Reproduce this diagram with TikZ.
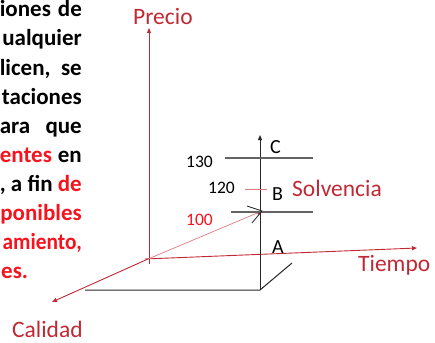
\documentclass[tikz,border=0pt]{standalone}
\usepackage{fontspec}
\setmainfont{Carlito}
\usetikzlibrary{arrows.meta}
\definecolor{axisred}{RGB}{192,40,52}
\definecolor{pinkred}{RGB}{224,120,130}
\definecolor{textred}{RGB}{245,20,30}
\definecolor{linegray}{RGB}{100,100,100}

\begin{document}
\begin{tikzpicture}[x=1pt,y=-1pt,
  axis/.style={draw=axisred,line width=0.9pt,-{Triangle[length=5pt,width=4pt]}},
  guide/.style={draw=linegray,line width=1.3pt},
  frame/.style={draw=black!85,line width=1pt},
  axislabel/.style={text=axisred,font=\fontsize{23.5}{28}\selectfont,inner sep=0pt},
  letter/.style={font=\fontsize{20}{24}\selectfont,inner sep=0pt},
  value/.style={font=\fontsize{17.5}{21}\selectfont,inner sep=0pt},
  para/.style={font=\bfseries\fontsize{23}{29}\selectfont,inner sep=0pt}]
  \useasboundingbox (0,0) rectangle (435,342);
  % cut-off paragraph on the left
  \node[para,anchor=base east] (l1) at (82,17) {\makebox[82pt][s]{iones de}};
  \node[para,anchor=base east] (l2) at (82,46) {ualquier};
  \node[para,anchor=base east] (l3) at (82,75) {\makebox[82pt][s]{licen, se}};
  \node[para,anchor=base east] (l4) at (82,104) {taciones};
  \node[para,anchor=base east] (l5) at (82,133) {\makebox[82pt][s]{ara que}};
  \node[para,anchor=base east] (l6) at (82,162) {\makebox[82pt][s]{\textcolor{textred}{entes} en}};
  \node[para,anchor=base east] (l7) at (82,191) {\makebox[82pt][s]{, a fin \textcolor{textred}{de}}};
  \node[para,anchor=base east,text=textred] (l8) at (82,220) {ponibles};
  \node[para,anchor=base east,text=textred] (l9) at (82,249) {\scalebox{0.93}[1]{amiento,}};
  \node[para,anchor=base west,text=textred] (l10) at (1,278) {es.};
  % axes
  \coordinate (O) at (148,259);
  \coordinate (pbot) at (149,264);
  \coordinate (ptop) at (149,28);
  \coordinate (tstart) at (145,259);
  \coordinate (ttip) at (417,248);
  \coordinate (ctip) at (52,302);
  \coordinate (stip) at (262,211);
  \draw[axis] (pbot) -- (ptop);
  \draw[axis] (tstart) -- (ttip);
  \draw[axis] (O) -- (ctip);
  \draw[draw=pinkred,line width=0.7pt,-{Triangle[length=5pt,width=4pt,color=axisred]}] (O) -- (stip);
  % solvency frame
  \coordinate (corner) at (260,290);
  \coordinate (vtop) at (260,135);
  \coordinate (bleft) at (85,290);
  \coordinate (dtip) at (292,263);
  \draw[frame,-{Triangle[length=5pt,width=4pt]}] (corner) -- (vtop);
  \draw[frame] (bleft) -- (corner) -- (dtip);
  \coordinate (g130a) at (225,158); \coordinate (g130b) at (313,158);
  \coordinate (g120a) at (245,189); \coordinate (g120b) at (267,189);
  \coordinate (g100a) at (231,212); \coordinate (g100b) at (313,212);
  \draw[guide] (g130a) -- (g130b);
  \draw[guide] (g100a) -- (g100b);
  \draw[draw=pinkred,line width=0.8pt] (g120a) -- (g120b);
  \coordinate (k1) at (247,206); \coordinate (k2) at (252,223);
  \draw[frame,line width=0.8pt] (k1) -- (stip) -- (k2);
  % labels
  \node[axislabel,anchor=base west] (precio) at (133,25) {Precio};
  \node[axislabel,anchor=base west] (tiempo) at (358,271) {Tiempo};
  \node[axislabel,anchor=base west] (calidad) at (12,337) {Calidad};
  \node[axislabel,anchor=base west] (solvencia) at (292,196) {Solvencia};
  \node[letter,anchor=base west] (c) at (270,153) {C};
  \node[letter,anchor=base west] (b) at (272,200) {B};
  \node[letter,anchor=base west] (a) at (272,253) {A};
  \node[value,anchor=base east] (v130) at (213,167) {130};
  \node[value,anchor=base east] (v120) at (235,193) {120};
  \node[value,anchor=base east,text=textred] (v100) at (213,225) {100};
\end{tikzpicture}
\end{document}
